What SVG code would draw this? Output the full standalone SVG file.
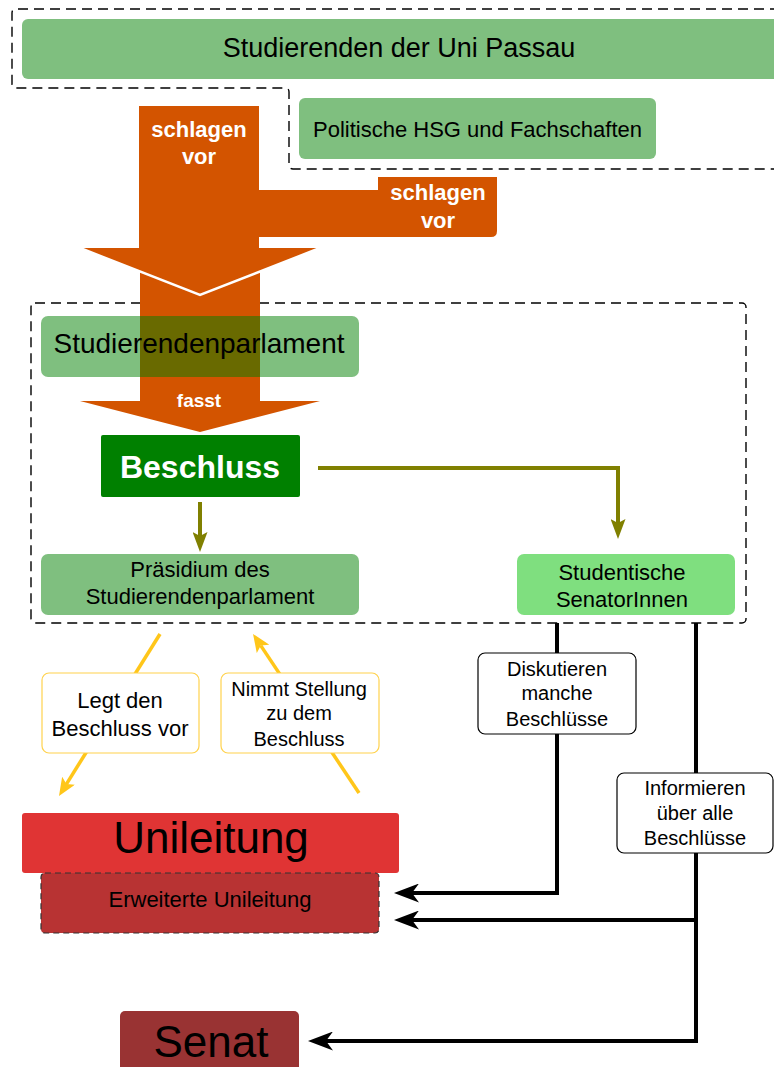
<svg xmlns="http://www.w3.org/2000/svg" width="774" height="1067" viewBox="0 0 774 1067">
<style>
text{font-family:"Liberation Sans",Arial,sans-serif;text-anchor:middle;fill:#000}
.wb{fill:#fff;font-weight:bold}
.grp{fill:none;stroke:#000;stroke-width:1.4;stroke-dasharray:10 6}
.g50{fill:#008000;fill-opacity:.5}
.or{fill:#d35400}
.olive{fill:none;stroke:#808000;stroke-width:4}
.yel{fill:none;stroke:#ffc61a;stroke-width:3.5}
.blk{fill:none;stroke:#000;stroke-width:4}
.ylab{fill:#fff;stroke:#ffd24d;stroke-width:1.2}
.blab{fill:#fff;stroke:#000;stroke-width:1.2}
</style>
<defs>
<marker id="mOlive" markerUnits="userSpaceOnUse" markerWidth="20" markerHeight="15" viewBox="0 0 20 15" refX="4" refY="7.5" orient="auto">
<path d="M20,7.5 L0,0 L4,7.5 L0,15 Z" fill="#808000"/>
</marker>
<marker id="mYel" markerUnits="userSpaceOnUse" markerWidth="18" markerHeight="15" viewBox="0 0 18 15" refX="4" refY="7.5" orient="auto">
<path d="M18,7.5 L0,0 L4,7.5 L0,15 Z" fill="#ffc61a"/>
</marker>
<marker id="mBlk" markerUnits="userSpaceOnUse" markerWidth="25" markerHeight="19" viewBox="0 0 25 19" refX="7" refY="9.5" orient="auto">
<path d="M25,9.5 L0,0 L7,9.5 L0,19 Z" fill="#000"/>
</marker>
</defs>
<rect width="774" height="1067" fill="#fff"/>

<g id="group-top">
<path class="grp" d="M780,9 H16 Q12,9 12,13 V84 Q12,88 16,88 H285 Q289,88 289,92 V165 Q289,169 293,169 H780"/>
</g>
<g id="group-parlament">
<rect class="grp" x="31" y="303" width="715" height="320" rx="4"/>
</g>

<g id="studierende">
<rect class="g50" x="22" y="19" width="780" height="60" rx="6"/>
<text x="399" y="57" font-size="27">Studierenden der Uni Passau</text>
</g>
<g id="hsg">
<rect class="g50" x="299" y="98" width="357" height="61" rx="6"/>
<text x="477.5" y="137" font-size="22">Politische HSG und Fachschaften</text>
</g>

<g id="arrow-fasst">
<polygon class="or" points="140,270 260,270 260,401 320,401 200,432 80,401 140,401"/>
</g>
<g id="arrow-schlagen-hsg">
<path class="or" d="M259,190 H378 V177 H497 V231 Q497,237 491,237 H259 Z"/>
<text class="wb" x="438" y="200" font-size="22">schlagen</text>
<text class="wb" x="438" y="228" font-size="22">vor</text>
</g>
<g id="arrow-schlagen">
<polygon class="or" points="139,106 259,106 259,248 320,248 200,295 80,248 139,248"/>
<polyline points="80,248 200,295 320,248" fill="none" stroke="#fff" stroke-width="2.5"/>
<text class="wb" x="199" y="137" font-size="22">schlagen</text>
<text class="wb" x="199" y="164" font-size="22">vor</text>
</g>

<g id="studierendenparlament">
<rect class="g50" x="41" y="316" width="318" height="61" rx="7"/>
<text x="199" y="353" font-size="28">Studierendenparlament</text>
</g>
<g id="fasst-label">
<text class="wb" x="199" y="407" font-size="19">fasst</text>
</g>
<g id="beschluss">
<rect x="101" y="435" width="199" height="62" rx="2" fill="#008000"/>
<text class="wb" x="200" y="478" font-size="32">Beschluss</text>
</g>
<g id="praesidium">
<rect class="g50" x="41" y="554" width="318" height="61" rx="7"/>
<text x="200" y="577" font-size="22">Präsidium des</text>
<text x="200" y="604" font-size="22">Studierendenparlament</text>
</g>
<g id="senatorinnen">
<rect x="517" y="554" width="218" height="61" rx="7" fill="#00c000" fill-opacity=".5"/>
<text x="622" y="580" font-size="22">Studentische</text>
<text x="622" y="607" font-size="22">SenatorInnen</text>
</g>

<g id="connectors">
<path class="olive" d="M318,468 H618 V523" marker-end="url(#mOlive)"/>
<path class="olive" d="M200,502 V536" marker-end="url(#mOlive)"/>
<path class="yel" d="M160,634 L66.4,784.1" marker-end="url(#mYel)"/>
<path class="yel" d="M359,793 L260.8,645.6" marker-end="url(#mYel)"/>
<path class="blk" d="M557,623 V893 H412" marker-end="url(#mBlk)"/>
<path class="blk" d="M696,623 V1041 H326" marker-end="url(#mBlk)"/>
<path class="blk" d="M696,920 H412" marker-end="url(#mBlk)"/>
</g>

<g id="label-legt">
<rect class="ylab" x="42" y="673" width="157" height="80" rx="7"/>
<text x="120" y="708" font-size="22">Legt den</text>
<text x="120" y="736" font-size="22">Beschluss vor</text>
</g>
<g id="label-nimmt">
<rect class="ylab" x="221" y="673" width="158" height="80" rx="7"/>
<text x="299" y="696" font-size="20">Nimmt Stellung</text>
<text x="299" y="720" font-size="20">zu dem</text>
<text x="299" y="746" font-size="20">Beschluss</text>
</g>
<g id="label-diskutieren">
<rect class="blab" x="478" y="653" width="158" height="81" rx="7"/>
<text x="557" y="676" font-size="20">Diskutieren</text>
<text x="557" y="700" font-size="20">manche</text>
<text x="557" y="726" font-size="20">Beschlüsse</text>
</g>
<g id="label-informieren">
<rect class="blab" x="617" y="773" width="156" height="80" rx="7"/>
<text x="695" y="795" font-size="20">Informieren</text>
<text x="695" y="820" font-size="20">über alle</text>
<text x="695" y="845" font-size="20">Beschlüsse</text>
</g>

<g id="unileitung">
<rect x="22" y="813" width="377" height="60" rx="3" fill="#e03434"/>
<text x="211" y="853" font-size="44">Unileitung</text>
</g>
<g id="erweiterte-unileitung">
<rect x="41" y="873" width="338" height="60" rx="4" fill="#b83333" stroke="#333" stroke-width="1.2" stroke-dasharray="6 4"/>
<text x="210" y="907" font-size="22">Erweiterte Unileitung</text>
</g>
<g id="senat">
<rect x="120" y="1011" width="179" height="70" rx="5" fill="#993333"/>
<text x="211" y="1057" font-size="44">Senat</text>
</g>
</svg>
